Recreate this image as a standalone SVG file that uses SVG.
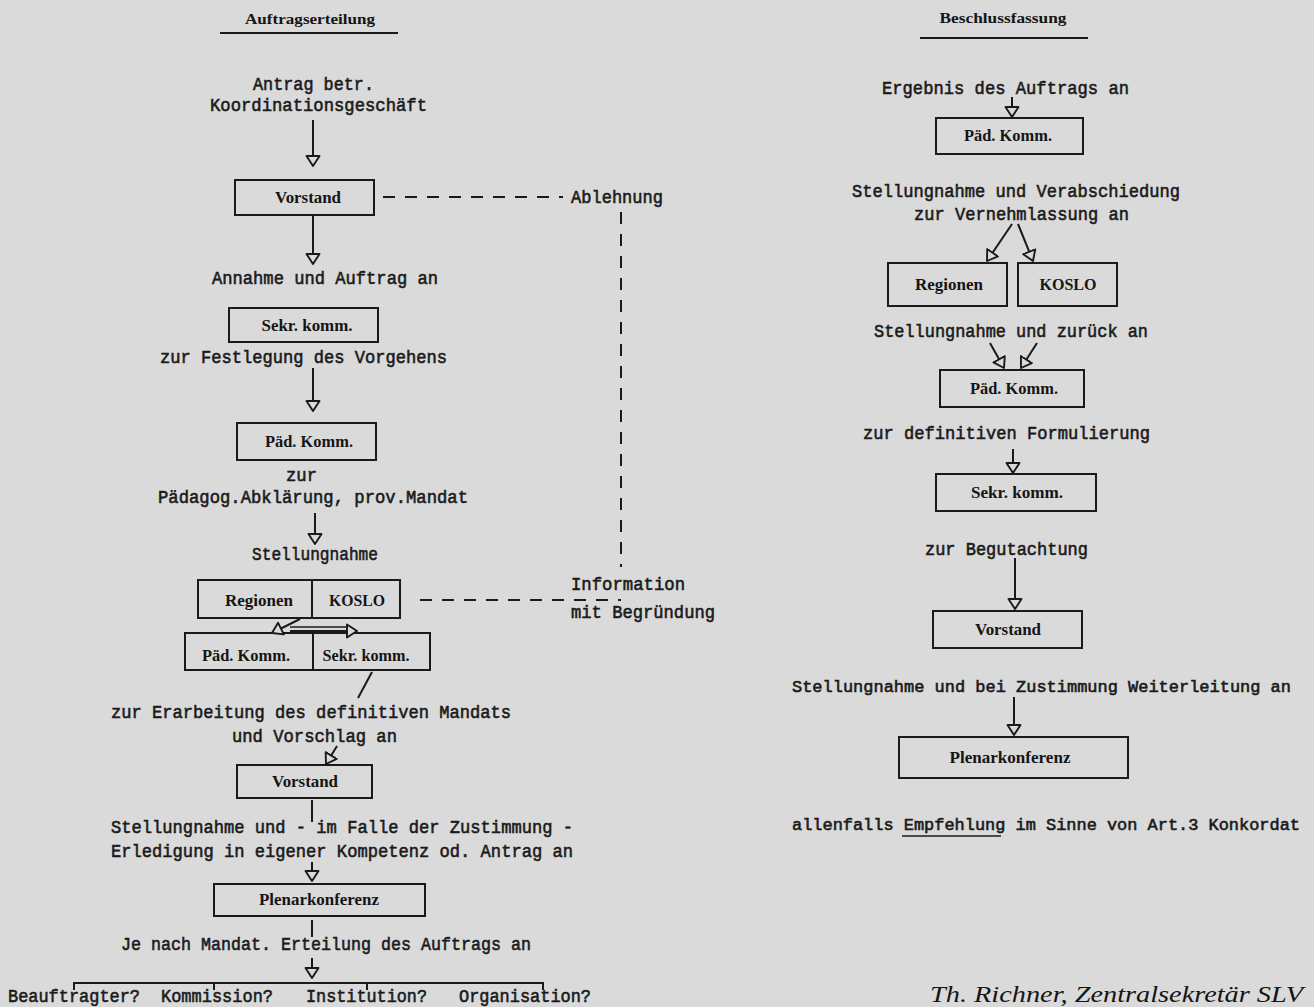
<svg xmlns="http://www.w3.org/2000/svg" width="1314" height="1007" viewBox="0 0 1314 1007">
<defs>
<style>
.tw{font-family:"Liberation Mono","Courier New",monospace;font-size:19px;fill:#1a1a1a;stroke:#1a1a1a;stroke-width:0.6px}
.tws{font-size:17px}
.bx{font-family:"Liberation Serif","Times New Roman",serif;font-size:16px;font-weight:bold;fill:#151515;text-anchor:middle}
.hd{font-family:"Liberation Serif","Times New Roman",serif;font-size:14px;font-weight:bold;fill:#151515;text-anchor:middle}
.sig{font-family:"Liberation Serif","Times New Roman",serif;font-size:24px;font-style:italic;fill:#151515}
.box{fill:none;stroke:#1a1a1a;stroke-width:2}
.ln{fill:none;stroke:#1a1a1a;stroke-width:2}
.ar{fill:none;stroke:#1a1a1a;stroke-width:2;marker-end:url(#oh)}
.ds{fill:none;stroke:#1a1a1a;stroke-width:2;stroke-dasharray:12 10}
</style>
<marker id="oh" markerUnits="userSpaceOnUse" viewBox="0 0 12 16" markerWidth="12" markerHeight="16" refX="11" refY="8" orient="auto">
<path d="M1,1.5 L11,8 L1,14.5 Z" fill="#dadada" stroke="#1a1a1a" stroke-width="1.9" stroke-linejoin="round"/>
</marker>
</defs>
<rect x="0" y="0" width="1314" height="1007" fill="#dadada"/>

<g id="headings">
<text class="hd" x="310" y="24" textLength="130" lengthAdjust="spacingAndGlyphs">Auftragserteilung</text>
<line class="ln" x1="220" y1="33" x2="398" y2="33"/>
<text class="hd" x="1003" y="23" textLength="127" lengthAdjust="spacingAndGlyphs">Beschlussfassung</text>
<line class="ln" x1="920" y1="38" x2="1088" y2="38"/>
</g>

<g id="labels">
<text class="tw" x="253" y="90" textLength="121" lengthAdjust="spacingAndGlyphs">Antrag betr.</text>
<text class="tw" x="210" y="111" textLength="217" lengthAdjust="spacingAndGlyphs">Koordinationsgeschäft</text>
<text class="tw" x="571" y="203" textLength="92" lengthAdjust="spacingAndGlyphs">Ablehnung</text>
<text class="tw" x="212" y="284" textLength="226" lengthAdjust="spacingAndGlyphs">Annahme und Auftrag an</text>
<text class="tw" x="160" y="363" textLength="287" lengthAdjust="spacingAndGlyphs">zur Festlegung des Vorgehens</text>
<text class="tw" x="286" y="481" textLength="31" lengthAdjust="spacingAndGlyphs">zur</text>
<text class="tw" x="158" y="503" textLength="310" lengthAdjust="spacingAndGlyphs">Pädagog.Abklärung, prov.Mandat</text>
<text class="tw" x="252" y="560" textLength="126" lengthAdjust="spacingAndGlyphs">Stellungnahme</text>
<text class="tw" x="571" y="590" textLength="114" lengthAdjust="spacingAndGlyphs">Information</text>
<text class="tw" x="571" y="618" textLength="144" lengthAdjust="spacingAndGlyphs">mit Begründung</text>
<text class="tw" x="111" y="718" textLength="400" lengthAdjust="spacingAndGlyphs">zur Erarbeitung des definitiven Mandats</text>
<text class="tw" x="232" y="742" textLength="165" lengthAdjust="spacingAndGlyphs">und Vorschlag an</text>
<text class="tw" x="111" y="833" textLength="462" lengthAdjust="spacingAndGlyphs">Stellungnahme und - im Falle der Zustimmung -</text>
<text class="tw" x="111" y="857" textLength="462" lengthAdjust="spacingAndGlyphs">Erledigung in eigener Kompetenz od. Antrag an</text>
<text class="tw" x="121" y="950" textLength="410" lengthAdjust="spacingAndGlyphs">Je nach Mandat. Erteilung des Auftrags an</text>
<text class="tw" x="8" y="1002" textLength="132" lengthAdjust="spacingAndGlyphs">Beauftragter?</text>
<text class="tw" x="161" y="1002" textLength="112" lengthAdjust="spacingAndGlyphs">Kommission?</text>
<text class="tw" x="306" y="1002" textLength="121" lengthAdjust="spacingAndGlyphs">Institution?</text>
<text class="tw" x="459" y="1002" textLength="132" lengthAdjust="spacingAndGlyphs">Organisation?</text>

<text class="tw" x="882" y="94" textLength="247" lengthAdjust="spacingAndGlyphs">Ergebnis des Auftrags an</text>
<text class="tw" x="852" y="197" textLength="328" lengthAdjust="spacingAndGlyphs">Stellungnahme und Verabschiedung</text>
<text class="tw" x="914" y="220" textLength="215" lengthAdjust="spacingAndGlyphs">zur Vernehmlassung an</text>
<text class="tw" x="874" y="337" textLength="274" lengthAdjust="spacingAndGlyphs">Stellungnahme und zurück an</text>
<text class="tw" x="863" y="439" textLength="287" lengthAdjust="spacingAndGlyphs">zur definitiven Formulierung</text>
<text class="tw" x="925" y="555" textLength="163" lengthAdjust="spacingAndGlyphs">zur Begutachtung</text>
<text class="tw tws" x="792" y="692" textLength="499" lengthAdjust="spacingAndGlyphs">Stellungnahme und bei Zustimmung Weiterleitung an</text>
<text class="tw tws" x="792" y="830" textLength="508" lengthAdjust="spacingAndGlyphs">allenfalls Empfehlung im Sinne von Art.3 Konkordat</text>
<line class="ln" x1="902" y1="836" x2="1001" y2="836" style="stroke-width:1.6"/>
<text class="sig" x="930" y="1002" textLength="373" lengthAdjust="spacingAndGlyphs">Th. Richner, Zentralsekretär SLV</text>
</g>

<g id="n-vorstand1"><rect class="box" x="235" y="180" width="139" height="35"/><text class="bx" x="308" y="203" textLength="66" lengthAdjust="spacingAndGlyphs">Vorstand</text></g>
<g id="n-sekr1"><rect class="box" x="229" y="308" width="149" height="34"/><text class="bx" x="307" y="331" textLength="91" lengthAdjust="spacingAndGlyphs">Sekr. komm.</text></g>
<g id="n-paed1"><rect class="box" x="237" y="423" width="139" height="37"/><text class="bx" x="309" y="447" textLength="88" lengthAdjust="spacingAndGlyphs">Päd. Komm.</text></g>
<g id="n-reg-koslo1"><rect class="box" x="198" y="580" width="202" height="38"/><line class="ln" x1="312" y1="580" x2="312" y2="618"/><text class="bx" x="259" y="606" textLength="68" lengthAdjust="spacingAndGlyphs">Regionen</text><text class="bx" x="357" y="606" textLength="56" lengthAdjust="spacingAndGlyphs">KOSLO</text></g>
<g id="n-paed-sekr"><rect class="box" x="185" y="633" width="245" height="37"/><line class="ln" x1="313" y1="633" x2="313" y2="670"/><text class="bx" x="246" y="661" textLength="88" lengthAdjust="spacingAndGlyphs">Päd. Komm.</text><text class="bx" x="366" y="661" textLength="87" lengthAdjust="spacingAndGlyphs">Sekr. komm.</text></g>
<g id="n-vorstand2"><rect class="box" x="237" y="765" width="135" height="33"/><text class="bx" x="305" y="787" textLength="66" lengthAdjust="spacingAndGlyphs">Vorstand</text></g>
<g id="n-plenar1"><rect class="box" x="214" y="884" width="211" height="32"/><text class="bx" x="319" y="905" textLength="120" lengthAdjust="spacingAndGlyphs">Plenarkonferenz</text></g>

<g id="n-paed-r1"><rect class="box" x="936" y="118" width="147" height="36"/><text class="bx" x="1008" y="141" textLength="88" lengthAdjust="spacingAndGlyphs">Päd. Komm.</text></g>
<g id="n-reg-r"><rect class="box" x="888" y="263" width="119" height="43"/><text class="bx" x="949" y="290" textLength="68" lengthAdjust="spacingAndGlyphs">Regionen</text></g>
<g id="n-koslo-r"><rect class="box" x="1018" y="263" width="99" height="43"/><text class="bx" x="1068" y="290" textLength="57" lengthAdjust="spacingAndGlyphs">KOSLO</text></g>
<g id="n-paed-r2"><rect class="box" x="940" y="370" width="144" height="37"/><text class="bx" x="1014" y="394" textLength="88" lengthAdjust="spacingAndGlyphs">Päd. Komm.</text></g>
<g id="n-sekr-r"><rect class="box" x="936" y="474" width="160" height="37"/><text class="bx" x="1017" y="498" textLength="92" lengthAdjust="spacingAndGlyphs">Sekr. komm.</text></g>
<g id="n-vorstand-r"><rect class="box" x="933" y="611" width="149" height="37"/><text class="bx" x="1008" y="635" textLength="66" lengthAdjust="spacingAndGlyphs">Vorstand</text></g>
<g id="n-plenar-r"><rect class="box" x="899" y="737" width="229" height="41"/><text class="bx" x="1010" y="763" textLength="121" lengthAdjust="spacingAndGlyphs">Plenarkonferenz</text></g>

<g id="connectors">
<line class="ar" x1="313" y1="120" x2="313" y2="166"/>
<line class="ar" x1="313" y1="215" x2="313" y2="264"/>
<line class="ar" x1="313" y1="368" x2="313" y2="411"/>
<line class="ar" x1="315" y1="513" x2="315" y2="544"/>
<line class="ds" x1="383" y1="197" x2="563" y2="197"/>
<line class="ds" x1="621" y1="212" x2="621" y2="567"/>
<line class="ds" x1="420" y1="600" x2="621" y2="600"/>
<line class="ar" x1="300" y1="619" x2="272" y2="633"/>
<line class="ln" x1="290" y1="627" x2="350" y2="627" style="stroke-width:1.6"/>
<line class="ar" x1="290" y1="631" x2="357" y2="631"/>
<line class="ln" x1="372" y1="672" x2="358" y2="698"/>
<line class="ar" x1="337" y1="746" x2="326" y2="764"/>
<line class="ln" x1="312" y1="800" x2="312" y2="822"/>
<line class="ar" x1="312" y1="862" x2="312" y2="881"/>
<line class="ln" x1="312" y1="920" x2="312" y2="937"/>
<line class="ar" x1="312" y1="958" x2="312" y2="978"/>
<path class="ln" d="M74,990 V983 H543 V990 M214,983 V990 M367,983 V990"/>

<line class="ar" x1="1012" y1="97" x2="1012" y2="117"/>
<line class="ar" x1="1012" y1="224" x2="987" y2="261"/>
<line class="ar" x1="1018" y1="224" x2="1033" y2="261"/>
<line class="ar" x1="990" y1="343" x2="1004" y2="368"/>
<line class="ar" x1="1037" y1="343" x2="1021" y2="368"/>
<line class="ar" x1="1013" y1="449" x2="1013" y2="473"/>
<line class="ar" x1="1015" y1="558" x2="1015" y2="609"/>
<line class="ar" x1="1014" y1="697" x2="1014" y2="735"/>
</g>
</svg>
